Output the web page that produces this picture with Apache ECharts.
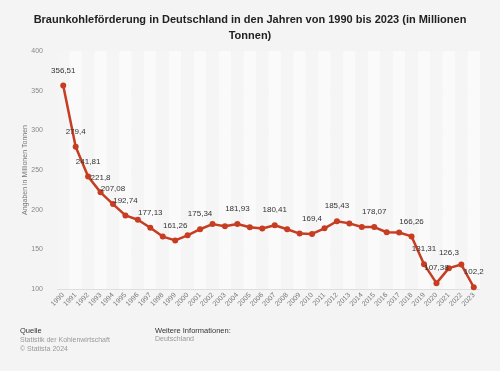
<!DOCTYPE html>
<html><head><meta charset="utf-8">
<script src="https://cdn.jsdelivr.net/npm/echarts@6/dist/echarts.min.js"></script>
<style>html,body{margin:0;padding:0;background:#f4f4f4}#c{width:500px;height:371px}</style>
</head><body><div id="c"></div>
<script>
const years = ['1990','1991','1992','1993','1994','1995','1996','1997','1998','1999','2000','2001','2002','2003','2004','2005','2006','2007','2008','2009','2010','2011','2012','2013','2014','2015','2016','2017','2018','2019','2020','2021','2022','2023'];
const values = [356.51,279.4,241.81,221.8,207.08,192.74,187.24,177.13,166.05,161.26,167.69,175.34,181.78,179.08,181.93,177.91,176.32,180.41,175.31,169.86,169.4,176.5,185.43,182.7,178.2,178.07,171.5,171.3,166.26,131.31,107.38,126.3,130.8,102.2];
const labeledYears = ['1990','1991','1992','1993','1994','1995','1997','1999','2001','2004','2007','2010','2012','2015','2018','2019','2020','2021','2023'];
const yTicks = [100,150,200,250,300,350,400];

const FF = 'Liberation Sans, Arial, sans-serif';
const fmt = v => String(v).replace('.', ',');
const chart = echarts.init(document.getElementById('c'));
chart.setOption({
  backgroundColor:'#f4f4f4',
  animation:false,
  title:{text:'Braunkohleförderung in Deutschland in den Jahren von 1990 bis 2023 (in Millionen\nTonnen)',left:'center',top:7,
    textStyle:{fontFamily:FF,fontSize:11,fontWeight:'bold',color:'#222',lineHeight:16}},
  grid:{left:57,right:20,top:51,bottom:82},
  xAxis:{type:'category',data:years,boundaryGap:true,
    axisLine:{show:false},axisTick:{show:false},
    axisLabel:{rotate:45,fontSize:7,color:'#777',fontFamily:FF,interval:0,margin:5},
    splitArea:{show:true,areaStyle:{color:['#f5f5f5','#fafafa']}}},
  yAxis:{type:'value',min:100,max:400,interval:50,
    axisLabel:{fontSize:7,color:'#888',fontFamily:FF,margin:14},
    splitLine:{lineStyle:{color:'#dedede',width:1}},axisLine:{show:false},axisTick:{show:false}},
  series:[{type:'line',
    data:values.map((v,i)=>({value:v,label:{show:labeledYears.includes(years[i])}})),
    symbol:'circle',symbolSize:6,
    lineStyle:{color:'#c63d21',width:2.5},itemStyle:{color:'#c63d21'},
    label:{position:'top',distance:8,fontSize:8,color:'#333',fontFamily:FF,formatter:p=>fmt(p.value)}}],
  graphic:[
    {type:'text',x:25,y:170,rotation:Math.PI/2,style:{text:'Angaben in Millionen Tonnen',fontSize:7,fill:'#777',fontFamily:FF,align:'center',verticalAlign:'middle'}},
    {type:'text',left:20,top:327,style:{text:'Quelle',fontSize:7.5,fill:'#333',fontFamily:FF}},
    {type:'text',left:20,top:336,style:{text:'Statistik der Kohlenwirtschaft\n© Statista 2024',fontSize:7,lineHeight:9,fill:'#999',fontFamily:FF}},
    {type:'text',left:155,top:327,style:{text:'Weitere Informationen:',fontSize:7.5,fill:'#333',fontFamily:FF}},
    {type:'text',left:155,top:336,style:{text:'Deutschland',fontSize:7,fill:'#999',fontFamily:FF}}
  ]
});
</script></body></html>
